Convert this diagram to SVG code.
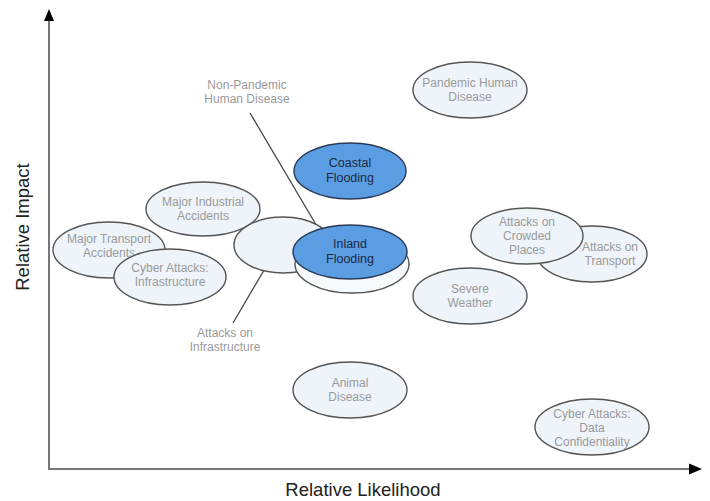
<svg xmlns="http://www.w3.org/2000/svg" width="710" height="501" viewBox="0 0 710 501">
<style>
.e{fill:#eef4fa;stroke:#555;stroke-width:1.4}
.b{fill:#5b9de2;stroke:#2b3a55;stroke-width:1.4}
.w{fill:#f7fafd;stroke:#555;stroke-width:1.4}
.t{font-family:"Liberation Sans",Arial,sans-serif;font-size:12px;fill:#9a9a9a;text-anchor:middle}
.tb{font-family:"Liberation Sans",Arial,sans-serif;font-size:12.5px;fill:#1b2a44;text-anchor:middle}
.ax{font-family:"Liberation Sans",Arial,sans-serif;font-size:18.5px;fill:#222;text-anchor:middle}
.ln{stroke:#444;stroke-width:1.3;fill:none}
</style>
<rect width="710" height="501" fill="#fff"/>
<g id="axes">
<line x1="49" y1="20" x2="49" y2="469" stroke="#777" stroke-width="2"/>
<line x1="48" y1="469" x2="690" y2="469" stroke="#777" stroke-width="2"/>
<polygon points="49,9 54,21 44,21" fill="#000"/>
<polygon points="702,469 689,463.5 689,474.5" fill="#000"/>
<text class="ax" transform="translate(29,227) rotate(-90)">Relative Impact</text>
<text class="ax" x="363" y="496">Relative Likelihood</text>
</g>
<g id="connectors">
<line class="ln" x1="250" y1="113" x2="318" y2="228"/>
<line class="ln" x1="233" y1="323" x2="270" y2="260"/>
</g>
<g id="label-nonpandemic">
<text class="t" x="247" y="89">Non-Pandemic</text>
<text class="t" x="247" y="103">Human Disease</text>
</g>
<g id="label-infrastructure">
<text class="t" x="225" y="337">Attacks on</text>
<text class="t" x="225" y="351">Infrastructure</text>
</g>
<g id="pandemic">
<ellipse class="e" cx="470" cy="90" rx="57" ry="28"/>
<text class="t" x="470" y="87">Pandemic Human</text>
<text class="t" x="470" y="101">Disease</text>
</g>
<g id="industrial">
<ellipse class="e" cx="203" cy="209" rx="57" ry="27"/>
<text class="t" x="203" y="206">Major Industrial</text>
<text class="t" x="203" y="220">Accidents</text>
</g>
<g id="transport-accidents">
<ellipse class="e" cx="109" cy="250" rx="56" ry="28"/>
<text class="t" x="109" y="243">Major Transport</text>
<text class="t" x="109" y="257">Accidents</text>
</g>
<g id="cyber-infrastructure">
<ellipse class="e" cx="170" cy="277" rx="56" ry="28"/>
<text class="t" x="170" y="272">Cyber Attacks:</text>
<text class="t" x="170" y="286">Infrastructure</text>
</g>
<g id="attacks-infrastructure">
<ellipse class="e" cx="283" cy="245" rx="49" ry="28"/>
</g>
<g id="coastal">
<ellipse class="b" cx="350" cy="171" rx="56" ry="28"/>
<text class="tb" x="350" y="167">Coastal</text>
<text class="tb" x="350" y="182">Flooding</text>
</g>
<g id="inland">
<ellipse class="w" cx="352" cy="264" rx="57" ry="29"/>
<ellipse class="b" cx="350" cy="252" rx="57" ry="27"/>
<text class="tb" x="350" y="248">Inland</text>
<text class="tb" x="350" y="263">Flooding</text>
</g>
<g id="transport-attacks">
<ellipse class="e" cx="592" cy="254" rx="55" ry="28"/>
<text class="t" x="610" y="251">Attacks on</text>
<text class="t" x="610" y="265">Transport</text>
</g>
<g id="crowded">
<ellipse class="e" cx="527" cy="236" rx="56" ry="28"/>
<text class="t" x="527" y="226">Attacks on</text>
<text class="t" x="527" y="240">Crowded</text>
<text class="t" x="527" y="254">Places</text>
</g>
<g id="weather">
<ellipse class="e" cx="470" cy="296" rx="57" ry="28"/>
<text class="t" x="470" y="293">Severe</text>
<text class="t" x="470" y="307">Weather</text>
</g>
<g id="animal">
<ellipse class="e" cx="350" cy="390" rx="57" ry="28"/>
<text class="t" x="350" y="387">Animal</text>
<text class="t" x="350" y="401">Disease</text>
</g>
<g id="cyber-data">
<ellipse class="e" cx="592" cy="427" rx="57" ry="28"/>
<text class="t" x="592" y="418">Cyber Attacks:</text>
<text class="t" x="592" y="432">Data</text>
<text class="t" x="592" y="446">Confidentiality</text>
</g>
</svg>
